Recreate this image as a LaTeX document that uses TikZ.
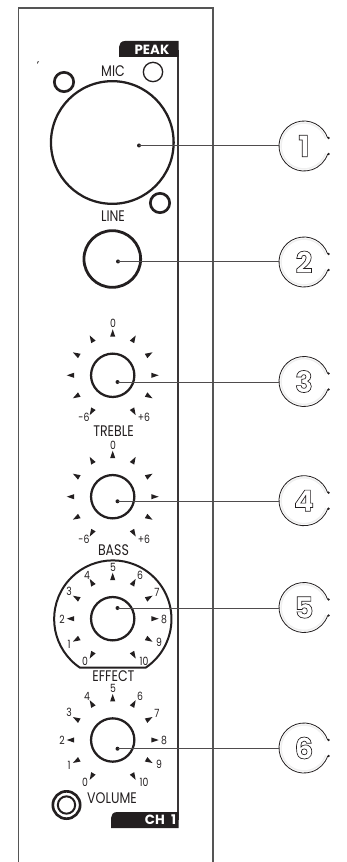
\documentclass[tikz,border=0pt]{standalone}
\usepackage{fontspec}
\setmainfont{Poppins}
\newfontfamily\lbl[FakeStretch=0.82]{Poppins}
\newfontfamily\tabf{Poppins}[UprightFont=* Bold]
\newfontfamily\numf{Poppins}[UprightFont=* Bold]
\usetikzlibrary{calc}
\definecolor{ink}{HTML}{231F20}
\definecolor{rim}{HTML}{555555}
\definecolor{halo}{HTML}{EFEFEF}
\newcommand{\outl}[1]{\special{pdf:code q 1 Tr 0.5 w}#1\special{pdf:code Q}}
\tikzset{
  x=0.75pt,y=-0.75pt,
  panel/.style={draw=rim,line width=0.8pt},
  divider/.style={draw=ink!90,line width=1.3pt},
  tabbox/.style={fill=ink,draw=none},
  tabtext/.style={text=white,font=\tabf\fontsize{10}{11}\selectfont,inner sep=0pt},
  biglabel/.style={text=ink,font=\lbl\fontsize{11.5}{12}\selectfont,inner sep=0pt},
  scale label/.style={text=ink,font=\lbl\fontsize{8.5}{9}\selectfont,inner sep=0pt},
  knobc/.style={circle,draw=ink,line width=1.7pt,minimum size=32.5pt,inner sep=0pt},
  jackc/.style={circle,draw=ink,inner sep=0pt},
  tipdot/.style={circle,fill=ink,inner sep=0pt,minimum size=3pt},
  leader/.style={draw=ink!80,line width=0.65pt},
  callnum/.style={inner sep=0pt,text=ink,font=\numf\fontsize{22}{23}\selectfont},
}
\newcommand{\ticks}[2]{%
  \foreach \a in {-60,-30,0,30,60,90,120,150,180,210,240}{%
    \fill[ink] ($(#1,#2)+(\a:34.5pt)$) -- ($(#1,#2)+(\a+3.8:29pt)$) -- ($(#1,#2)+(\a-3.8:29pt)$) -- cycle;
  }}
\newcommand{\callout}[3]{%
  \node[callnum] (c#1) at (304,#2) {\outl{#3}};
  \draw[halo,line width=1.1pt] ($(304,#2)+(19:17.2pt)$) arc[start angle=19,end angle=341,radius=17.2pt];
  \draw[ink,line width=0.6pt] ($(304,#2)+(18.7:18.75pt)$) arc[start angle=18.7,end angle=341.3,radius=18.75pt];
  \coordinate (cw#1) at (279,#2);
  \fill[ink] (328.6,#2-8) circle[radius=1pt];
  \fill[ink] (328.6,#2+8) circle[radius=1pt];
}
\begin{document}
\begin{tikzpicture}
\useasboundingbox (0,0) rectangle (346,862);
\draw[panel] (18.5,862) -- (18.5,8) -- (213,8) -- (213,862);
\draw[divider] (178,50) -- (178,820);
\fill[tabbox] (178.5,41) -- (125,41) .. controls (121,41) and (119,44) .. (119,47) -- (119,57) -- (178.5,57) -- cycle;
\node[tabtext] (peak) at (152,49.5) {PEAK};
\fill[tabbox] (178.5,812) -- (117,812) .. controls (113,812) and (111,815) .. (111,818) -- (111,828) -- (178.5,828) -- cycle;
\node[tabtext] (ch) at (160.5,820) {CH\hspace{2.5pt} 1};
\fill[ink] (37,64) -- (37.6,61.5) -- (39,61.5) -- cycle;
\node[circle,draw=ink,line width=1.7pt,minimum size=92pt,inner sep=0pt] (mic) at (112.3,142.5) {};
\node[jackc,line width=2pt,minimum size=14.5pt] (s1) at (64,82) {};
\node[jackc,line width=1pt,minimum size=14.5pt] (s2) at (153,72) {};
\node[jackc,line width=2pt,minimum size=14.5pt] (s3) at (160,203) {};
\node[biglabel] (miclbl) at (113,71) {MIC};
\node[biglabel] (linelbl) at (113,216) {LINE};
\node[circle,draw=ink,line width=2.1pt,minimum size=42.5pt,inner sep=0pt] (line) at (112.3,259) {};
\node[knobc] (k3) at (112.7,375.3) {};
\node[knobc] (k4) at (112.7,496.7) {};
\node[knobc] (k5) at (112.7,618.7) {};
\node[knobc] (k6) at (112.7,740) {};
\ticks{112.7}{375.3}\ticks{112.7}{496.7}\ticks{112.7}{618.7}\ticks{112.7}{740}
\node[scale label] at (113,323) {0};
\node[scale label] at (84,417.5) {-6};
\node[scale label] at (144,417.5) {+6};
\node[biglabel] at (113.5,431) {TREBLE};
\node[scale label] at (113,445) {0};
\node[scale label] at (84,539) {-6};
\node[scale label] at (144,539) {+6};
\node[biglabel] at (113.5,550) {BASS};
\draw[ink,line width=1.5pt] (146,667.7) -- (80,667.7) arc[start angle=236,end angle=-56,radius=44pt] -- cycle;
\foreach \t/\px/\py in {5/113/567,4/87/575,6/140/575,3/69/591,7/157/592,2/62/619,8/164/619,1/69/644,9/159/642.5,0/85/661,10/144/661}{
  \node[scale label] at (\px,\py) {\t};
}
\node[biglabel] at (113.5,676) {EFFECT};
\foreach \t/\px/\py in {5/113/688,4/87/696,6/140/696,3/69/712.5,7/157/713,2/62/740,8/164/740,1/69/765.5,9/159/764,0/85/782,10/144/782}{
  \node[scale label] at (\px,\py) {\t};
}
\node[biglabel] at (112,798) {VOLUME};
\node[jackc,line width=2pt,minimum size=20.5pt] (v1) at (66.5,805) {};
\node[jackc,line width=1.5pt,minimum size=13pt] (v2) at (66.5,805) {};
\callout{1}{146}{1}
\callout{2}{262}{2}
\callout{3}{381.5}{3}
\callout{4}{500.7}{4}
\callout{5}{607.5}{5}
\callout{6}{748}{6}
\node[tipdot] (d1) at (139,145.5) {};
\node[tipdot] (d2) at (118,261.5) {};
\node[tipdot] (d3) at (117.5,382) {};
\node[tipdot] (d4) at (117.5,501.3) {};
\node[tipdot] (d5) at (117.5,608) {};
\node[tipdot] (d6) at (117.5,748.7) {};
\foreach \i in {1,...,6}{\draw[leader] (d\i.center) -- (d\i.center -| cw\i);}
\end{tikzpicture}
\end{document}
